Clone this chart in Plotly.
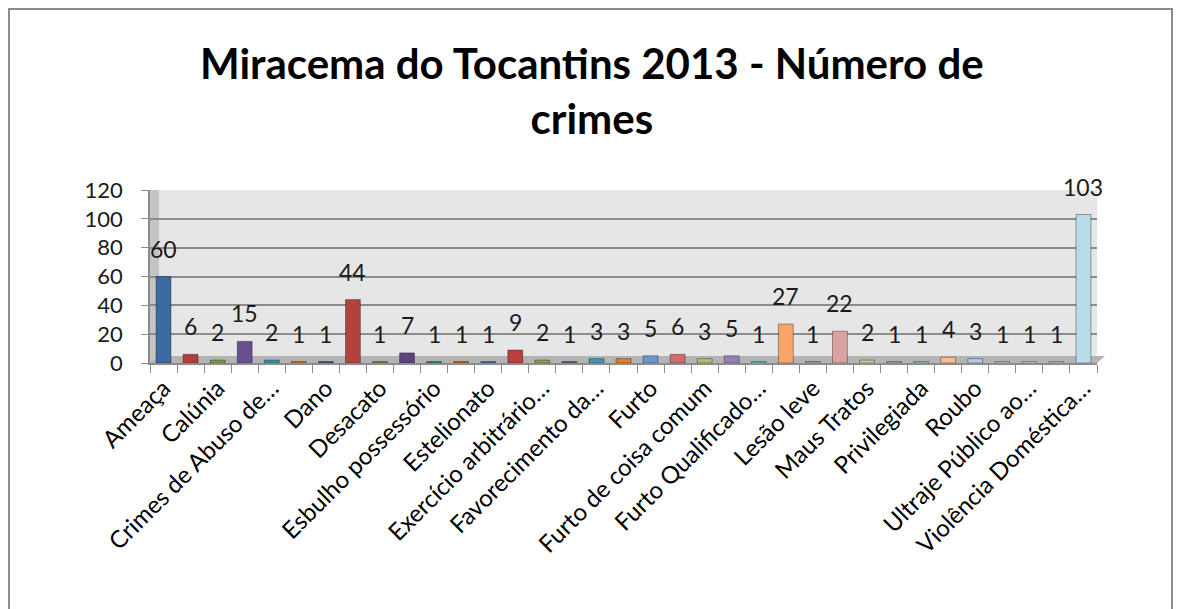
import plotly.graph_objects as go

# Values (one per bar, left to right)
values = [60, 6, 2, 15, 2, 1, 1, 44, 1, 7, 1, 1, 1, 9, 2, 1, 3, 3,
          5, 6, 3, 5, 1, 27, 1, 22, 2, 1, 1, 4, 3, 1, 1, 1, 103]

# Visible category labels (shown on every other bar)
tick_labels = ["Ameaça", "Calúnia", "Crimes de Abuso de…", "Dano", "Desacato",
               "Esbulho possessório", "Estelionato", "Exercício arbitrário…",
               "Favorecimento da…", "Furto", "Furto de coisa comum",
               "Furto Qualificado…", "Lesão leve", "Maus Tratos", "Privilegiada",
               "Roubo", "Ultraje Público ao…", "Violência Doméstica…"]

y_ticks = [0, 20, 40, 60, 80, 100, 120]

title = "Miracema do Tocantins 2013 - Número de<br>crimes"

colors = ["#3B6AA0", "#B03E3B", "#7F9D45", "#6A4F8E", "#3495AF", "#D7782B",
          "#2E5A8E", "#B5423F", "#71903A", "#5C4380", "#2B879F", "#C86A20",
          "#3E6DA8", "#B9403D", "#86A64A", "#6E5294", "#3A9BB6", "#E57F2F",
          "#6E97D0", "#CF6B69", "#A8C46D", "#9580BA", "#6FBCD2", "#F9A56A",
          "#93B1DC", "#DAA3A2", "#BFD39B", "#B2A5CB", "#9ACFDE", "#FABC91",
          "#B7C9E6", "#E8C3C2", "#D3E1BE", "#CEC5DD", "#B9DCE8"]

n = len(values)
xs = list(range(n))
tick_pos = xs[::2]

# page offset (body margin) compensation
OFF = 8
W, H = 1186 - OFF, 609 - OFF
left_px, right_px, top_px, bot_px = 150, 1097, 190, 363  # window coords
L = left_px - OFF
T = top_px - OFF
R = W - (right_px - OFF)
B = H - (bot_px - OFF)
pw, ph = W - L - R, H - T - B


def px_x(x):
    return (x - OFF - L) / pw


def px_y(y):
    return 1 - (y - OFF - T) / ph


fig = go.Figure()
fig.add_trace(go.Bar(
    x=xs, y=values,
    marker=dict(color=colors[:n], line=dict(color="rgba(0,0,0,0.35)", width=1)),
    width=0.55,
    showlegend=False,
    hoverinfo="x+y",
))

annotations = [
    dict(text="<b>" + title + "</b>", xref="paper", yref="paper",
         x=px_x(592), y=px_y(91), xanchor="center", yanchor="middle",
         showarrow=False, font=dict(family="Lato", size=42, color="black")),
]
for xv, v in zip(xs, values):
    annotations.append(dict(
        x=xv, y=v, xref="x", yref="y", text=str(v), showarrow=False,
        xanchor="center", yanchor="bottom", yshift=12,
        font=dict(family="Lato", size=23, color="#1a1a1a")))

fig.update_layout(
    width=W, height=H,
    margin=dict(l=L, r=R, t=T, b=B),
    paper_bgcolor="white",
    plot_bgcolor="#E6E6E6",
    annotations=annotations,
    xaxis=dict(
        range=[-0.5, n - 0.5],
        tickmode="array", tickvals=tick_pos, ticktext=tick_labels,
        tickangle=-45, ticks="", showgrid=False, zeroline=False,
        showline=True, linecolor="#8C8C8C", linewidth=1.5,
        tickfont=dict(family="Lato", size=24, color="black"),
        minor=dict(tickmode="linear", tick0=-0.5, dtick=1, ticks="outside",
                   ticklen=8, tickcolor="#8C8C8C", showgrid=False),
    ),
    yaxis=dict(
        range=[0, 120], tickvals=y_ticks, ticks="outside", ticklen=7,
        tickcolor="#8C8C8C", showline=True, linecolor="#8C8C8C", linewidth=1.5,
        showgrid=True, gridcolor="#8C8C8C", gridwidth=1.5, zeroline=False,
        tickfont=dict(family="Lato", size=22, color="#1a1a1a"),
        ticklabelstandoff=14,
    ),
    shapes=[
        dict(type="rect", xref="paper", yref="paper",
             x0=px_x(OFF + 1), x1=px_x(1172), y0=px_y(640), y1=px_y(OFF + 1),
             line=dict(color="#8C8C8C", width=2), fillcolor="rgba(0,0,0,0)",
             layer="below"),
        # left side wall
        dict(type="rect", xref="paper", yref="paper",
             x0=0, x1=px_x(159), y0=0, y1=1,
             line=dict(width=0), fillcolor="#C4C4C4", layer="between"),
        # floor
        dict(type="path", xref="paper", yref="paper",
             path="M {a},{b} L {c},{b} L {d},{e} L {f},{e} Z".format(
                 a=0, b=0, c=1, d=px_x(1105), e=px_y(356), f=px_x(159)),
             line=dict(width=0), fillcolor="#B4B4B4", layer="between"),
    ],
)

fig.write_html("out.html")
